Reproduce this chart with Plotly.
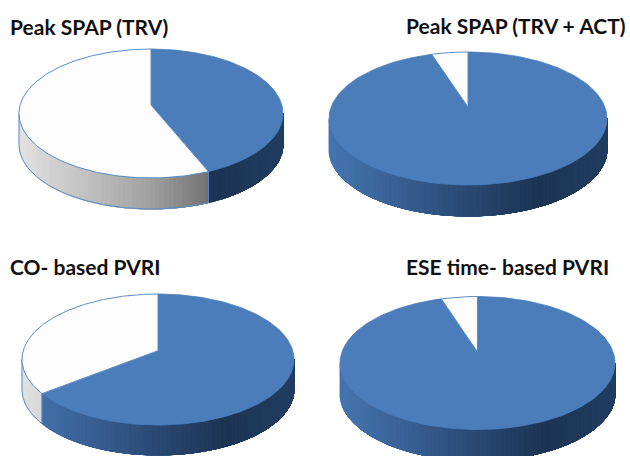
import numpy as np
import plotly.graph_objects as go

# ---- data ----
titles = ["Peak SPAP (TRV)", "Peak SPAP (TRV + ACT)", "CO- based PVRI", "ESE time- based PVRI"]
blue_values = [43.7, 95, 64.5, 95]
white_values = [56.3, 5, 35.5, 5]

# ---- layout of each pie, in page pixels ----
centers_x = [151, 468, 158, 477.5]
centers_y = [113.5, 118.5, 359.5, 363]
radii_x = [132, 139, 136, 137.5]
radii_y = [64.5, 66.5, 65.5, 66.5]
apex_y = [105, 107, 350.7, 352]
depths = [31, 31, 30, 31]
title_x = [8, 404, 8, 404]
title_y = [26, 25, 266, 266]

BLUE = "#4b7dbb"
OUTLINE = "#5a8cc6"
WHITE = "#fdfdfd"
U = [0.0, 0.25, 0.5, 0.75, 1.0]
BLUE_SIDE = [(70, 118, 176), (56, 96, 148), (42, 72, 114), (28, 52, 84), (34, 62, 96)]
GRAY_SIDE = [(226, 226, 226), (194, 194, 194), (160, 160, 160), (108, 108, 108), (90, 90, 90)]


def side_colour(stops, u):
    rgb = [np.interp(u, U, [s[i] for s in stops]) for i in range(3)]
    return "rgb(%d,%d,%d)" % tuple(int(round(v)) for v in rgb)


fig = go.Figure()


def polygon(xs, ys, fill, line=None, width=1.0):
    fig.add_trace(go.Scatter(x=xs, y=ys, mode="lines", fill="toself", fillcolor=fill,
                             line=dict(color=line or fill, width=width), hoverinfo="skip"))


for i in range(4):
    cx, cy, rx, ry = centers_x[i], centers_y[i], radii_x[i], radii_y[i]
    c = (cy - apex_y[i]) / ry
    depth = depths[i]
    share = blue_values[i] / (blue_values[i] + white_values[i])
    k = np.sqrt(1 - c * c)

    def rim(angle):
        """Clockwise angle from twelve o'clock on the pie -> page position."""
        px, py = np.sin(angle), np.cos(angle)
        d = 1 + c * py
        return cx + rx * px * k / d, cy - ry * (py + c) / d

    def angle_of(x, y):
        """Page position on the rim -> clockwise angle from twelve o'clock."""
        qx, qy = (x - cx) / rx, (cy - y) / ry
        d = 1 - c * qy
        return np.arctan2(qx * k / d, (qy - c) / d) % (2 * np.pi)

    cut = 2 * np.pi * share
    cut_x, cut_y = rim(cut)
    cut_phi = np.arctan2((cut_y - cy) / ry, (cut_x - cx) / rx)

    # front wall: strips along the near half of the ellipse, drawn left to right,
    # each one running on under the next so no seams show
    phis = np.linspace(np.pi, 0, 91)
    if 0 < cut_phi < np.pi:
        phis = np.sort(np.append(phis, cut_phi))[::-1]
    for a, b in zip(phis[:-1], phis[1:]):
        mid = (a + b) / 2
        xm, ym = cx + rx * np.cos(mid), cy + ry * np.sin(mid)
        is_blue = angle_of(xm, ym) < cut
        u = (xm - (cx - rx)) / (2 * rx)
        col = side_colour(BLUE_SIDE if is_blue else GRAY_SIDE, u)
        arc = np.linspace(a, 0, 60)
        ax = cx + rx * np.cos(arc)
        ay = cy + ry * np.sin(arc)
        polygon(np.r_[ax, ax[::-1], ax[0]], np.r_[ay, ay[::-1] + depth, ay[0]], col, width=0.5)

    # outline of the grey wall and the divider between the walls
    grey = [p for p in np.linspace(np.pi, 0, 121)
            if angle_of(cx + rx * np.cos(p), cy + ry * np.sin(p)) >= cut and p > cut_phi]
    if grey and 0 < cut_phi < np.pi:
        g = np.array(grey + [cut_phi])
        gx = cx + rx * np.cos(g)
        gy = cy + ry * np.sin(g)
        fig.add_trace(go.Scatter(
            x=list(gx) + [gx[-1]] + [None] + [gx[0], gx[0]],
            y=list(gy + depth) + [gy[-1]] + [None] + [gy[0], gy[0] + depth],
            mode="lines", line=dict(color=OUTLINE, width=1.0), hoverinfo="skip"))

    # top faces
    t_blue = np.linspace(0, cut, 200)
    bx, by = rim(t_blue)
    polygon(np.r_[cx, bx, cx], np.r_[apex_y[i], by, apex_y[i]], BLUE, width=0.8)
    t_white = np.linspace(cut, 2 * np.pi, 200)
    wx, wy = rim(t_white)
    polygon(np.r_[cx, wx, cx], np.r_[apex_y[i], wy, apex_y[i]], WHITE, line=OUTLINE, width=1.0)

    fig.add_annotation(x=title_x[i], y=title_y[i], text="<b>%s</b>" % titles[i], showarrow=False,
                       xanchor="left", yanchor="middle",
                       font=dict(family="Lato", size=21, color="#111111"))

fig.update_layout(
    width=630, height=456, margin=dict(l=0, r=0, t=0, b=0),
    paper_bgcolor="white", plot_bgcolor="white", showlegend=False,
    xaxis=dict(range=[0, 630], visible=False, fixedrange=True),
    yaxis=dict(range=[456, 0], visible=False, fixedrange=True),
)
fig.write_html("out.html", config={"displayModeBar": False},
               post_script="document.body.style.margin='0';document.documentElement.style.overflow='hidden';")
